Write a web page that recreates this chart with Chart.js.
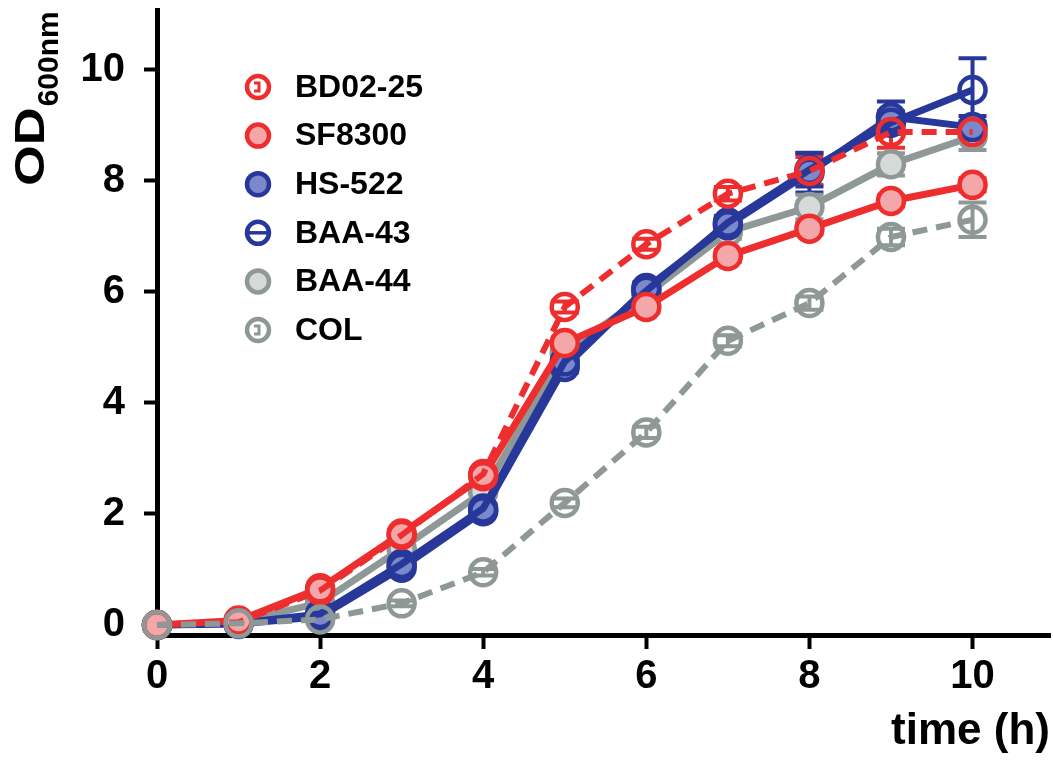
<!DOCTYPE html>
<html>
<head>
<meta charset="utf-8">
<script src="https://cdn.jsdelivr.net/npm/chart.js@4.4.1/dist/chart.umd.min.js"></script>
<style>
  body { margin: 0; background: #fff; }
  #wrap { width: 1053px; height: 766px; }
</style>
</head>
<body>
<div id="wrap"><canvas id="growthChart" width="1053" height="766"></canvas></div>
<script>
// time points (h)
const hours = [0, 1, 2, 3, 4, 5, 6, 7, 8, 9, 10];
const xTicks = [0, 2, 4, 6, 8, 10];
const yTicks = [0, 2, 4, 6, 8, 10];

// OD600 means per strain
const bd0225 = [0, 0.05, 0.62, 1.62, 2.72, 5.73, 6.86, 7.77, 8.18, 8.88, 8.88];
const sf8300 = [0, 0.08, 0.66, 1.65, 2.68, 5.08, 5.73, 6.65, 7.14, 7.64, 7.93];
const hs522  = [0, 0.02, 0.15, 1.03, 2.05, 4.65, 6.07, 7.20, 8.15, 9.15, 8.97];
const baa43  = [0, 0.03, 0.20, 1.10, 2.10, 4.75, 6.02, 7.25, 8.20, 9.05, 9.64];
const baa44  = [0, 0.05, 0.40, 1.38, 2.40, 4.90, 5.95, 7.08, 7.53, 8.30, 8.80];
const col    = [0, 0.03, 0.10, 0.39, 0.95, 2.20, 3.47, 5.12, 5.80, 6.99, 7.30];

// error (SD)
const bd0225Err = [0.02, 0.03, 0.05, 0.08, 0.08, 0.10, 0.10, 0.12, 0.25, 0.28, 0.15];
const sf8300Err = [0.02, 0.02, 0.05, 0.06, 0.08, 0.10, 0.10, 0.10, 0.10, 0.10, 0.12];
const hs522Err  = [0.01, 0.02, 0.03, 0.05, 0.05, 0.10, 0.10, 0.12, 0.36, 0.28, 0.20];
const baa43Err  = [0.01, 0.02, 0.05, 0.06, 0.08, 0.10, 0.10, 0.12, 0.30, 0.20, 0.57];
const baa44Err  = [0.01, 0.02, 0.05, 0.06, 0.08, 0.10, 0.10, 0.12, 0.22, 0.20, 0.24];
const colErr    = [0.01, 0.02, 0.03, 0.05, 0.06, 0.08, 0.10, 0.10, 0.12, 0.15, 0.31];

const RED = '#ee2e2e', PINK = '#f4a7a8';
const BLUE = '#27389a', LBLUE = '#7b88cc';
const GREY = '#8e9896', LGREY = '#d5d9d8';
const NONE = 'rgba(255,255,255,0)';

const font = '"Liberation Sans", Arial, Helvetica, sans-serif';

function series(label, values, errs, color, fill, dashed, order, open) {
  return {
    label: label,
    data: hours.map((h, i) => ({ x: h, y: values[i] })),
    errors: errs,
    borderColor: color,
    backgroundColor: fill,
    pointBackgroundColor: fill,
    pointBorderColor: color,
    pointBorderWidth: 4.5,
    pointRadius: 13,
    pointHoverRadius: 13,
    borderWidth: dashed ? 6 : 7,
    borderDash: dashed ? [15, 9] : [],
    tension: 0,
    clip: false,
    order: order,
    open: open
  };
}

const datasets = [
  series('BD02-25', bd0225, bd0225Err, RED, NONE, true, 1, 'v'),
  series('SF8300', sf8300, sf8300Err, RED, PINK, false, 2),
  series('HS-522', hs522, hs522Err, BLUE, LBLUE, false, 4),
  series('BAA-43', baa43, baa43Err, BLUE, NONE, false, 3, 'h'),
  series('BAA-44', baa44, baa44Err, GREY, LGREY, false, 5),
  series('COL', col, colErr, GREY, NONE, true, 0, 'v')
];

// error bars drawn behind the markers
const errorBars = {
  id: 'errorBars',
  beforeDatasetsDraw(chart) {
    const ctx = chart.ctx;
    const x = chart.scales.x, y = chart.scales.y;
    ctx.save();
    chart.data.datasets.forEach(ds => {
      ctx.strokeStyle = ds.borderColor;
      ctx.lineWidth = 4;
      ds.data.forEach((p, i) => {
        const e = ds.errors[i];
        const px = x.getPixelForValue(p.x);
        const top = y.getPixelForValue(p.y + e);
        const bot = y.getPixelForValue(p.y - e);
        ctx.beginPath();
        ctx.moveTo(px, top); ctx.lineTo(px, bot);
        ctx.moveTo(px - 14, top); ctx.lineTo(px + 14, top);
        ctx.moveTo(px - 14, bot); ctx.lineTo(px + 14, bot);
        ctx.stroke();
      });
    });
    ctx.restore();
  }
};

// legend inside the plot + y title with subscript
const extras = {
  id: 'extras',
  afterDraw(chart) {
    const ctx = chart.ctx;
    ctx.save();
    const lx = 258, ly = 87, step = 48.6;
    chart.data.datasets.forEach((ds, i) => {
      const cy = ly + i * step;
      ctx.beginPath();
      ctx.arc(lx, cy, 11, 0, Math.PI * 2);
      ctx.fillStyle = ds.open ? '#fff' : ds.backgroundColor;
      ctx.fill();
      ctx.lineWidth = 4.5;
      ctx.strokeStyle = ds.borderColor;
      ctx.stroke();
      if (ds.open === 'h') {
        ctx.beginPath();
        ctx.moveTo(lx - 11, cy); ctx.lineTo(lx + 11, cy);
        ctx.lineWidth = 3.5;
        ctx.stroke();
      } else if (ds.open === 'v') {
        ctx.beginPath();
        ctx.moveTo(lx - 4, cy - 4); ctx.lineTo(lx + 1, cy - 4);
        ctx.lineTo(lx + 1, cy + 4); ctx.lineTo(lx - 4, cy + 4);
        ctx.lineWidth = 3;
        ctx.stroke();
      }
      ctx.fillStyle = '#000';
      ctx.font = 'bold 32px ' + font;
      ctx.textBaseline = 'middle';
      ctx.textAlign = 'left';
      ctx.fillText(ds.label, 295, cy + 1);
    });

    // y title: OD600nm
    ctx.translate(44, 186);
    ctx.rotate(-Math.PI / 2);
    ctx.fillStyle = '#000';
    ctx.textBaseline = 'alphabetic';
    ctx.save();
    ctx.scale(1.22, 1);
    ctx.font = 'bold 43px ' + font;
    ctx.fillText('OD', 0, 0);
    const odw = ctx.measureText('OD').width * 1.22;
    ctx.restore();
    ctx.font = 'bold 30px ' + font;
    ctx.fillText('600nm', odw + 1, 14);
    ctx.restore();
  }
};

new Chart(document.getElementById('growthChart').getContext('2d'), {
  type: 'line',
  data: { datasets: datasets },
  plugins: [errorBars, extras],
  options: {
    responsive: false,
    animation: false,
    events: [],
    layout: { autoPadding: false, padding: { top: 10, right: 3, left: 0, bottom: 0 } },
    plugins: {
      legend: { display: false },
      tooltip: { enabled: false }
    },
    scales: {
      x: {
        type: 'linear',
        min: 0,
        max: 10.95,
        afterBuildTicks: s => { s.ticks = xTicks.map(v => ({ value: v })); },
        afterFit: s => { s.height = 131; s.paddingLeft = 0; s.paddingRight = 0; },
        border: { color: '#000', width: 5 },
        grid: { drawOnChartArea: false, drawTicks: true, tickLength: 14, tickWidth: 4, tickColor: '#000' },
        ticks: { color: '#000', padding: 4, maxRotation: 0, font: { family: font, size: 40, weight: 'bold' } },
        title: {
          display: true,
          text: 'time (h)',
          align: 'end',
          color: '#000',
          padding: { top: 0, bottom: 8 },
          font: { family: font, size: 44, weight: 'bold' }
        }
      },
      y: {
        type: 'linear',
        min: -0.18,
        max: 11.08,
        afterBuildTicks: s => { s.ticks = yTicks.map(v => ({ value: v })); },
        afterFit: s => { s.width = 157; s.paddingTop = 0; s.paddingBottom = 0; },
        border: { color: '#000', width: 5 },
        grid: { drawOnChartArea: false, drawTicks: true, tickLength: 13, tickWidth: 4, tickColor: '#000' },
        ticks: { color: '#000', padding: 19, font: { family: font, size: 40, weight: 'bold' } }
      }
    }
  }
});
</script>
</body>
</html>
